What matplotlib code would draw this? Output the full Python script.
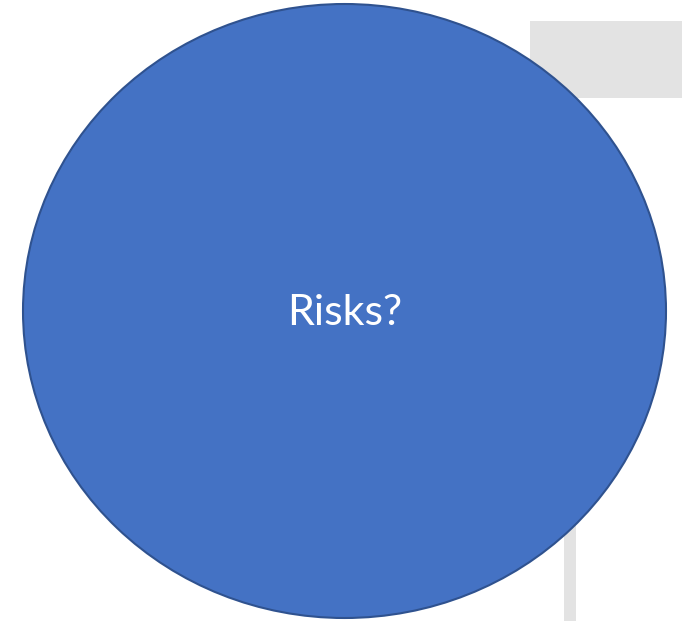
import matplotlib
matplotlib.use("Agg")
import matplotlib.pyplot as plt
from matplotlib.patches import Ellipse, Rectangle

label = "Risks?"
circle_color = "#4472C4"
edge_color = "#2F528F"
gray = "#E3E3E3"

W, H = 682, 621
fig = plt.figure(figsize=(W / 100, H / 100), dpi=100)
ax = fig.add_axes([0, 0, 1, 1])
ax.set_xlim(0, W)
ax.set_ylim(H, 0)
ax.axis("off")

# gray shapes behind
ax.add_patch(Rectangle((530, 21), 152, 77, facecolor=gray, edgecolor="none", zorder=1))
ax.add_patch(Rectangle((564, 450), 12, 171, facecolor=gray, edgecolor="none", zorder=1))

# main circle
ax.add_patch(Ellipse((344.5, 311), 643, 614, facecolor=circle_color,
                     edgecolor=edge_color, linewidth=1.5, zorder=2))

ax.text(344.5, 313, label, color="white", fontsize=31, family=["Lato", "DejaVu Sans"],
        ha="center", va="center", zorder=3)

fig.savefig("out.png", dpi=100)
